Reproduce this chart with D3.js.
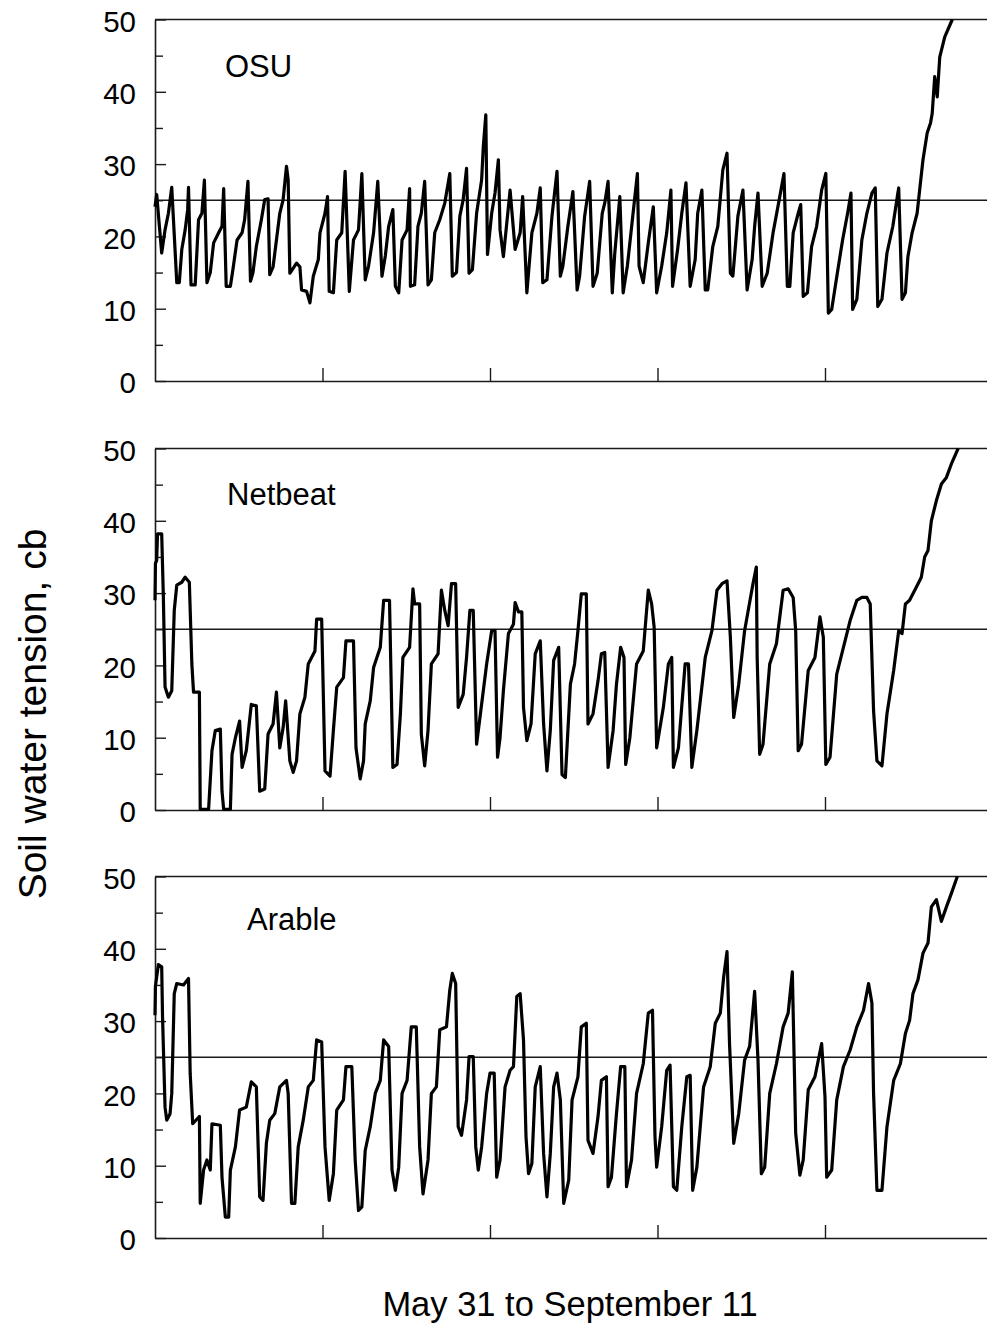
<!DOCTYPE html>
<html>
<head>
<meta charset="utf-8">
<style>
  body { margin: 0; background: #fff; }
  svg { display: block; }
  text { font-family: "Liberation Sans", Arial, sans-serif; fill: #000; }
</style>
<script src="https://cdnjs.cloudflare.com/ajax/libs/d3/7.8.5/d3.min.js"></script>
</head>
<body>
<svg id="chart" width="987" height="1330"></svg>
<script>
// day index (0 = May 31) and soil water tension (cb)
const osu = [
  [0.0,24.1],[0.2,25.8],[0.8,17.7],[1.2,20.9],[1.6,23.2],[2.0,26.8],[2.6,13.6],[2.9,13.6],[3.2,18.2],[3.6,20.9],
  [3.9,23.7],[4.0,26.8],[4.3,13.3],[4.8,13.3],[5.2,22.3],[5.6,23.2],[5.9,27.8],[6.2,13.6],[6.6,15.0],[7.0,19.1],
  [7.6,20.5],[8.0,21.4],[8.2,26.6],[8.5,13.1],[9.0,13.1],[9.3,15.4],[9.8,19.5],[10.4,20.5],[10.7,22.3],[11.1,27.6],
  [11.4,13.8],[11.7,15.0],[12.1,18.6],[12.7,22.3],[13.1,25.1],[13.5,25.2],[13.7,14.7],[14.1,15.8],[14.5,19.5],[14.9,23.2],
  [15.3,25.1],[15.7,29.7],[15.9,27.8],[16.1,14.9],[16.9,16.3],[17.3,15.8],[17.5,12.6],[18.1,12.4],[18.5,10.8],[18.9,14.5],
  [19.5,16.8],[19.7,20.5],[20.3,23.2],[20.6,25.5],[20.8,12.4],[21.3,12.2],[21.7,19.5],[22.3,20.5],[22.7,29.0],[23.2,12.4],
  [23.7,19.5],[24.3,20.9],[24.7,28.7],[25.1,14.0],[25.5,15.9],[26.1,20.5],[26.6,27.6],[27.1,14.5],[27.5,17.3],[27.9,21.4],
  [28.4,23.7],[28.7,13.1],[29.1,12.2],[29.5,19.5],[30.1,20.9],[30.4,26.6],[30.5,13.1],[31.0,13.3],[31.4,21.4],[31.8,23.2],
  [32.2,27.6],[32.6,13.3],[33.0,14.0],[33.4,20.5],[34.0,22.3],[34.6,24.6],[35.2,28.7],[35.5,14.5],[36.0,15.0],[36.4,22.8],
  [36.8,25.1],[37.2,29.4],[37.5,14.9],[37.9,15.4],[38.4,23.2],[39.0,27.8],[39.2,32.4],[39.5,36.8],[39.7,17.5],[40.2,23.2],
  [40.6,26.0],[41.0,30.6],[41.2,20.9],[41.6,17.2],[42.4,26.4],[43.0,18.2],[43.6,20.5],[43.9,25.5],[44.4,12.2],[45.0,20.5],
  [45.6,23.2],[46.0,26.7],[46.3,13.6],[46.8,14.0],[47.4,22.8],[48.0,29.0],[48.4,14.5],[48.7,15.9],[49.3,21.4],[49.9,26.2],
  [50.4,12.6],[50.7,14.5],[51.3,22.8],[51.9,27.6],[52.3,13.1],[52.8,14.9],[53.4,23.2],[53.7,24.6],[54.1,27.6],[54.6,12.2],
  [54.9,17.7],[55.5,25.5],[55.9,12.2],[56.4,15.9],[57.0,22.3],[57.6,28.7],[57.8,15.9],[58.3,13.6],[58.9,19.1],[59.5,24.1],
  [59.9,12.2],[60.5,15.9],[61.1,20.5],[61.6,26.4],[61.8,13.1],[62.4,18.2],[62.9,23.2],[63.4,27.4],[63.9,13.1],[64.5,16.8],
  [64.8,23.2],[65.3,26.4],[65.7,12.6],[66.0,12.6],[66.6,18.6],[67.2,21.4],[67.8,29.2],[68.3,31.5],[68.7,14.9],[69.0,14.5],
  [69.6,22.8],[70.2,26.4],[70.7,12.6],[71.3,16.8],[71.6,21.4],[72.0,26.0],[72.5,13.1],[73.1,14.9],[73.8,20.5],[74.6,25.5],
  [75.1,28.7],[75.5,13.1],[75.8,13.1],[76.2,20.5],[76.8,23.2],[77.1,24.4],[77.4,11.7],[77.9,12.2],[78.4,18.6],[79.0,21.4],
  [79.6,26.4],[80.1,28.7],[80.4,9.4],[80.8,9.9],[81.4,14.4],[82.1,19.5],[82.7,23.2],[83.1,26.0],[83.3,9.9],[83.8,11.3],
  [84.4,19.5],[85.0,23.2],[85.6,26.0],[86.0,26.7],[86.3,10.3],[86.8,11.3],[87.4,17.7],[88.1,21.4],[88.7,26.0],[88.8,26.7],
  [89.2,11.3],[89.6,12.2],[89.9,17.2],[90.4,20.5],[91.0,23.2],[91.3,26.4],[91.7,30.6],[92.2,34.3],[92.6,35.7],[92.8,37.0],
  [93.1,42.1],[93.4,39.3],[93.7,44.8],[94.3,47.6],[95.2,50.0]
];

const netbeat = [
  [0.0,29.0],[0.05,34.1],[0.2,34.5],[0.3,38.2],[0.8,38.2],[1.0,29.4],[1.2,17.0],[1.6,15.6],[2.0,16.5],[2.3,27.6],
  [2.6,31.1],[3.2,31.5],[3.6,32.2],[4.1,31.5],[4.4,20.2],[4.6,16.3],[5.3,16.3],[5.4,0.1],[6.4,0.1],[6.8,8.2],
  [7.2,11.0],[7.8,11.2],[8.0,2.6],[8.2,0.1],[9.0,0.1],[9.2,7.7],[9.6,10.0],[10.1,12.3],[10.4,5.9],[10.9,8.2],
  [11.5,14.6],[12.1,14.4],[12.5,2.6],[13.1,2.9],[13.5,10.5],[14.1,11.9],[14.5,16.3],[14.9,8.6],[15.3,11.4],[15.6,15.1],
  [16.1,6.8],[16.5,5.2],[16.9,6.8],[17.3,13.3],[17.9,15.6],[18.3,20.2],[19.1,22.0],[19.3,26.4],[19.9,26.4],[20.3,5.4],
  [20.9,4.7],[21.3,11.0],[21.7,17.0],[22.5,18.3],[22.8,23.4],[23.7,23.4],[24.0,8.6],[24.5,4.3],[24.9,6.8],[25.1,11.9],
  [25.7,15.1],[26.1,19.7],[26.9,22.5],[27.3,29.0],[28.0,29.0],[28.4,5.9],[28.9,6.3],[29.3,13.3],[29.6,21.1],[30.4,22.5],
  [30.8,30.6],[31.0,28.5],[31.6,28.5],[31.8,10.5],[32.2,6.1],[32.6,11.0],[33.0,20.2],[33.8,21.6],[34.2,30.4],[34.6,27.6],
  [35.0,25.5],[35.4,31.3],[35.9,31.3],[36.2,14.2],[36.8,16.0],[37.2,21.1],[37.6,27.6],[38.0,27.6],[38.4,9.1],[38.8,12.8],
  [39.6,20.2],[40.2,24.8],[40.6,24.8],[40.9,7.3],[41.2,10.0],[41.6,16.5],[42.2,24.4],[42.8,25.7],[43.0,28.7],[43.4,27.4],
  [43.8,27.4],[44.0,14.2],[44.4,9.6],[44.9,11.9],[45.4,21.6],[46.0,23.4],[46.4,11.9],[46.8,5.4],[47.2,11.0],[47.6,20.7],
  [48.2,22.5],[48.6,4.9],[49.0,4.5],[49.6,17.4],[50.1,20.2],[50.5,24.8],[50.9,29.9],[51.5,29.9],[51.7,11.9],[52.3,13.3],
  [52.9,17.9],[53.3,21.6],[53.7,21.8],[54.1,5.9],[54.7,11.0],[55.1,17.4],[55.6,22.5],[56.0,21.1],[56.2,6.3],[56.7,10.0],
  [57.5,20.2],[58.3,22.0],[58.9,30.4],[59.3,28.5],[59.6,25.3],[59.9,8.6],[60.7,14.2],[61.3,20.2],[61.7,21.1],[61.9,5.9],
  [62.5,8.6],[63.3,20.2],[63.7,20.2],[64.1,5.9],[64.7,11.0],[65.7,21.1],[66.5,24.8],[67.1,30.4],[67.7,31.3],[68.3,31.7],
  [68.7,23.9],[69.1,12.8],[69.7,17.4],[70.4,24.8],[71.4,31.3],[71.8,33.6],[71.9,21.1],[72.2,7.7],[72.6,9.1],[73.4,20.2],
  [74.2,23.0],[75.0,30.4],[75.6,30.6],[76.2,29.4],[76.5,24.8],[76.8,8.2],[77.2,9.1],[78.0,19.3],[78.8,21.1],[79.4,26.7],
  [79.8,23.9],[80.1,6.3],[80.6,7.3],[81.4,18.8],[82.2,22.5],[83.0,26.2],[83.8,29.0],[84.4,29.4],[85.0,29.4],[85.4,28.5],
  [85.8,13.7],[86.2,6.8],[86.8,6.1],[87.4,13.3],[88.2,19.3],[88.8,24.8],[89.2,24.4],[89.6,28.5],[90.1,29.0],[90.9,30.8],
  [91.5,32.2],[91.9,35.0],[92.3,35.9],[92.7,40.0],[93.3,42.8],[93.9,45.1],[94.5,46.0],[95.1,47.9],[95.9,50.0]
];

const arable = [
  [0.0,30.8],[0.05,34.8],[0.4,37.8],[0.8,37.5],[0.9,30.6],[1.2,18.1],[1.4,16.3],[1.8,17.2],[2.0,20.0],[2.3,33.8],
  [2.6,35.2],[3.4,35.0],[4.0,35.9],[4.2,22.8],[4.5,15.8],[5.3,16.8],[5.4,4.8],[5.8,9.4],[6.2,10.8],[6.6,9.4],
  [6.8,15.8],[7.8,15.6],[8.0,8.4],[8.4,2.9],[8.8,2.9],[9.0,9.4],[9.6,12.6],[10.1,17.7],[10.9,18.1],[11.5,21.6],
  [12.1,20.9],[12.5,5.7],[12.9,5.2],[13.3,13.1],[13.7,16.3],[14.3,17.2],[14.9,20.9],[15.7,21.8],[15.9,20.0],[16.3,4.8],
  [16.7,4.8],[17.1,12.6],[17.7,16.3],[18.3,20.9],[18.9,21.8],[19.3,27.4],[19.9,27.1],[20.3,12.6],[20.8,5.2],[21.3,8.9],
  [21.7,17.7],[22.5,19.1],[22.8,23.7],[23.5,23.7],[23.9,10.8],[24.3,3.8],[24.7,4.3],[25.1,12.1],[25.7,15.4],[26.3,20.0],
  [26.9,21.8],[27.3,27.4],[27.9,26.5],[28.3,9.4],[28.7,6.6],[29.1,9.8],[29.5,20.0],[30.1,21.8],[30.6,29.2],[31.2,29.2],
  [31.6,12.6],[32.0,6.1],[32.6,10.8],[33.0,20.0],[33.6,20.9],[34.0,28.8],[34.8,29.2],[35.2,34.3],[35.5,36.6],[35.9,35.2],
  [36.2,15.4],[36.6,14.2],[37.2,19.1],[37.5,25.1],[38.0,25.1],[38.3,12.6],[38.6,9.4],[39.0,12.6],[39.6,20.0],[40.0,22.8],
  [40.5,22.8],[40.8,8.4],[41.2,10.8],[41.8,20.9],[42.4,23.2],[42.8,23.7],[43.2,33.4],[43.6,33.8],[44.0,27.4],[44.3,14.0],
  [44.6,8.9],[45.0,10.3],[45.4,20.9],[46.0,23.7],[46.4,11.7],[46.8,5.7],[47.2,11.7],[47.6,20.9],[48.0,22.8],[48.4,19.1],
  [48.8,4.8],[49.4,8.0],[49.8,19.1],[50.5,22.3],[50.9,29.2],[51.5,29.7],[51.7,13.5],[52.3,11.7],[52.9,16.8],[53.3,21.8],
  [53.9,22.3],[54.1,7.1],[54.5,8.4],[55.1,17.2],[55.6,23.7],[56.1,23.7],[56.3,7.1],[56.9,10.8],[57.5,20.0],[58.3,24.1],
  [58.9,31.1],[59.4,31.5],[59.7,14.0],[59.9,9.8],[60.5,15.4],[61.1,23.2],[61.5,23.9],[61.9,7.1],[62.3,6.6],[62.9,15.4],
  [63.5,22.3],[63.9,22.5],[64.2,6.6],[64.7,9.8],[65.5,20.9],[66.3,23.7],[66.9,29.7],[67.5,31.1],[67.9,36.1],[68.3,39.6],
  [68.6,26.9],[69.1,13.1],[69.7,17.2],[70.4,24.6],[71.0,26.5],[71.6,34.1],[72.0,24.6],[72.4,8.9],[72.8,9.8],[73.4,20.0],
  [74.2,24.1],[75.0,29.2],[75.6,31.1],[76.1,36.8],[76.5,14.5],[77.0,8.7],[77.4,10.8],[78.0,20.5],[78.8,22.3],[79.6,26.9],
  [80.0,19.5],[80.2,8.4],[80.8,9.4],[81.4,19.1],[82.2,23.7],[83.0,26.0],[83.8,29.2],[84.6,31.5],[85.2,35.2],[85.6,32.5],
  [85.8,20.0],[86.2,6.6],[86.8,6.6],[87.4,15.4],[88.2,21.8],[89.0,24.1],[89.6,28.3],[90.1,30.1],[90.5,33.8],[91.1,35.7],
  [91.7,39.4],[92.3,40.8],[92.7,45.8],[93.3,46.8],[93.9,43.8],[94.5,45.8],[95.1,47.7],[95.8,50.0]
];

const names = ["OSU", "Netbeat", "Arable"];
const series = [osu, netbeat, arable];
const threshold = 25;
const yMajor = [0, 10, 20, 30, 40, 50];
const yMinor = [5, 15, 25, 35, 45];
const xTicks = [20, 40, 60, 80];
const xTitle = "May 31 to September 11";
const yTitle = "Soil water tension, cb";

// layout
const left = 155, right = 992.5;
const panelTops = [19.5, 448.5, 876.5];
const panelH = 361.5;
const labelPos = [[225, 57.5], [227, 56.5], [247, 53.5]];

const svg = d3.select("#chart");
const x = d3.scaleLinear().domain([0, 100]).range([left, right]);

series.forEach((data, i) => {
  const top = panelTops[i];
  const y = d3.scaleLinear().domain([0, 50]).range([top + panelH, top]);
  const g = svg.append("g");

  // top frame line
  g.append("line")
    .attr("x1", left).attr("x2", right)
    .attr("y1", top).attr("y2", top)
    .attr("stroke", "#1a1a1a").attr("stroke-width", 1.6);

  // threshold line
  g.append("line")
    .attr("x1", left).attr("x2", right)
    .attr("y1", y(threshold)).attr("y2", y(threshold))
    .attr("stroke", "#1a1a1a").attr("stroke-width", 1.4);

  // y axis, ticks pointing inward
  const ya = g.append("g")
    .attr("transform", `translate(${left},0)`)
    .call(d3.axisLeft(y).tickValues(yMajor).tickSize(-11).tickSizeOuter(0).tickPadding(19));
  ya.select(".domain").attr("stroke", "#1a1a1a").attr("stroke-width", 1.6);
  ya.selectAll(".tick line").attr("stroke", "#1a1a1a").attr("stroke-width", 1.4);
  ya.selectAll(".tick text")
    .attr("font-size", 29.5)
    .attr("font-family", "Liberation Sans, Arial, sans-serif")
    .attr("fill", "#000")
    .attr("dy", "0.4em");

  const ym = g.append("g")
    .attr("transform", `translate(${left},0)`)
    .call(d3.axisLeft(y).tickValues(yMinor).tickSize(-8).tickFormat(""));
  ym.select(".domain").remove();
  ym.selectAll(".tick line").attr("stroke", "#1a1a1a").attr("stroke-width", 1.4);

  // x axis, unlabeled ticks pointing up
  const xa = g.append("g")
    .attr("transform", `translate(0,${top + panelH})`)
    .call(d3.axisBottom(x).tickValues(xTicks).tickSize(-13).tickSizeOuter(0).tickFormat(""));
  xa.select(".domain").attr("stroke", "#1a1a1a").attr("stroke-width", 1.6);
  xa.selectAll(".tick line").attr("stroke", "#1a1a1a").attr("stroke-width", 1.4);

  // data line
  g.append("path")
    .datum(data)
    .attr("fill", "none")
    .attr("stroke", "#000")
    .attr("stroke-width", 3.2)
    .attr("stroke-linejoin", "round")
    .attr("d", d3.line().x(d => x(d[0])).y(d => y(d[1])));

  // panel label
  g.append("text")
    .attr("x", labelPos[i][0])
    .attr("y", top + labelPos[i][1])
    .attr("font-size", 31)
    .text(names[i]);
});

svg.append("text")
  .attr("x", 570)
  .attr("y", 1316)
  .attr("text-anchor", "middle")
  .attr("font-size", 34.5)
  .text(xTitle);

svg.append("text")
  .attr("transform", "translate(46,714) rotate(-90)")
  .attr("text-anchor", "middle")
  .attr("font-size", 39)
  .text(yTitle);
</script>
</body>
</html>
